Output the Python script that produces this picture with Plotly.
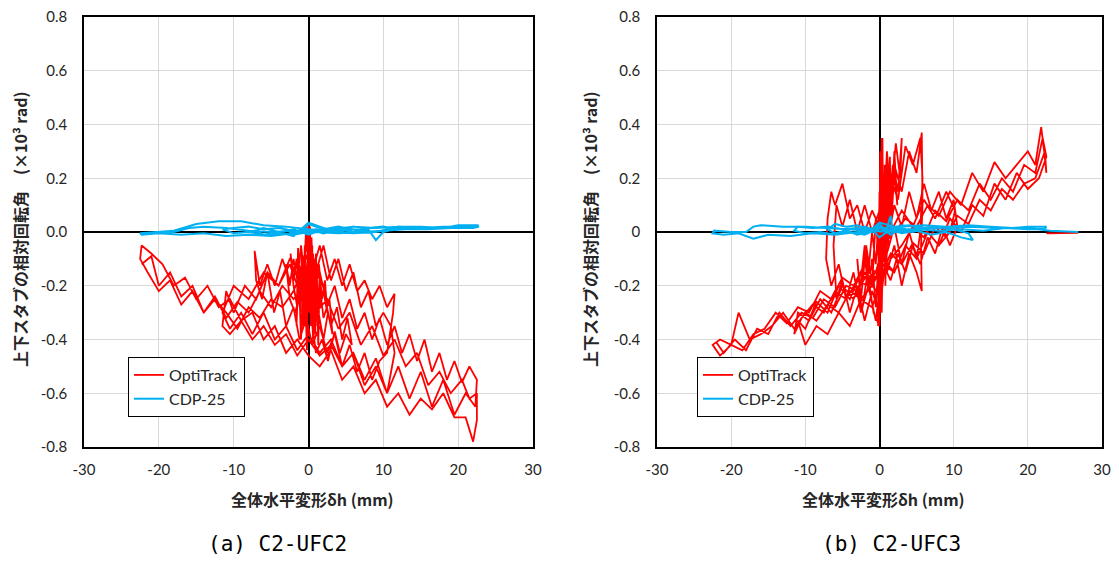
import plotly.graph_objects as go

# ---------------- data ----------------
# (a) C2-UFC2 : OptiTrack (x = 全体水平変形 mm, y = 相対回転角 x10^-3 rad)
a_optitrack = [
    (0.0, -0.05), (0.1, -0.3), (0.2, 0.02), (0.35, -0.35), (0.5, -0.05), (0.6, -0.4), (0.8, -0.1), (0.9, -0.38),
    (1.1, -0.12), (1.3, -0.42), (1.5, -0.15), (1.2, -0.35), (1.0, -0.08), (0.7, -0.3), (0.4, -0.02), (0.2, -0.28),
    (-0.1, -0.03), (-0.3, -0.3), (-0.5, -0.05), (-0.7, -0.35), (-0.9, -0.08), (-1.1, -0.3), (-1.3, -0.1), (-1.6, -0.35),
    (-1.4, -0.06), (-1.0, -0.4), (-0.6, -0.12), (-0.2, -0.44), (0.0, 0.03),
    (0.3, -0.15), (0.6, -0.08), (1.0, -0.2), (1.4, -0.12), (1.8, -0.25), (2.2, -0.18), (2.5, -0.3), (2.0, -0.22),
    (1.5, -0.28), (1.0, -0.18), (0.5, -0.25), (0.0, -0.1), (-0.4, -0.2), (-0.8, -0.12), (-1.2, -0.22), (-1.6, -0.1),
    (-2.0, -0.18), (-2.4, -0.08), (-2.0, -0.2), (-1.5, -0.28), (-1.0, -0.2), (-0.5, -0.3), (0.0, -0.02), (0.3, -0.35),
    (0.6, -0.1), (1.0, -0.3), (1.5, -0.2), (2.0, -0.32), (2.8, -0.25), (3.2, -0.38), (2.6, -0.3), (2.0, -0.4),
    (1.2, -0.28), (0.6, -0.38), (0.1, -0.2), (-0.3, 0.02), (-0.6, -0.15), (-1.0, -0.05), (-1.5, -0.18), (-2.0, -0.1),
    (-2.5, -0.2), (-3.0, -0.12), (-2.5, -0.25), (-1.8, -0.3), (-1.0, -0.22), (-0.4, -0.35), (0.2, -0.15),
    (1.0, -0.3), (2.0, -0.22), (3.0, -0.35), (3.8, -0.28), (4.5, -0.4), (5.2, -0.32), (5.8, -0.42), (5.0, -0.38),
    (4.2, -0.45), (3.5, -0.37), (2.6, -0.48), (1.8, -0.4), (1.0, -0.45), (0.3, -0.3), (-0.5, -0.2), (-1.5, -0.1),
    (-2.5, -0.18), (-3.5, -0.1), (-4.5, -0.2), (-5.5, -0.12), (-6.5, -0.2), (-7.2, -0.07), (-7.0, -0.18), (-6.2, -0.25),
    (-5.5, -0.15), (-4.6, -0.3), (-3.8, -0.22), (-3.0, -0.35), (-2.0, -0.28), (-1.2, -0.4), (-0.3, -0.32), (0.5, -0.42),
    (1.5, -0.35), (2.5, -0.45), (3.5, -0.38), (4.5, -0.5), (5.5, -0.42), (6.5, -0.52), (7.5, -0.45), (8.5, -0.55),
    (9.5, -0.48), (10.5, -0.45), (11.3, -0.3), (11.5, -0.23), (10.5, -0.28), (9.5, -0.2), (8.5, -0.25), (7.5, -0.18),
    (6.5, -0.22), (5.5, -0.12), (4.5, -0.2), (3.5, -0.1), (2.5, -0.18), (1.5, -0.05), (0.5, -0.15), (-0.5, -0.08),
    (-1.5, -0.2), (-2.5, -0.12), (-4.0, -0.2), (-5.5, -0.15), (-7.0, -0.25), (-8.5, -0.2), (-10.0, -0.3), (-11.0, -0.22),
    (-11.5, -0.35), (-10.5, -0.38), (-9.0, -0.33), (-7.5, -0.4), (-6.0, -0.35), (-4.5, -0.42), (-3.0, -0.38), (-1.5, -0.46),
    (0.0, -0.4), (1.5, -0.46), (3.0, -0.42), (4.5, -0.5), (6.0, -0.45), (7.5, -0.57), (9.0, -0.5), (10.5, -0.6),
    (11.5, -0.45), (11.0, -0.35), (10.0, -0.3), (9.0, -0.35), (8.0, -0.22), (7.0, -0.28), (6.0, -0.15), (5.0, -0.22),
    (4.0, -0.1), (3.0, -0.18), (2.0, -0.05), (1.0, -0.15), (0.0, -0.02), (-1.0, -0.15), (-2.5, -0.1), (-4.0, -0.2),
    (-6.0, -0.15), (-8.0, -0.25), (-10.0, -0.2), (-11.5, -0.3), (-10.5, -0.36), (-9.0, -0.3), (-7.5, -0.38), (-6.0, -0.3),
    (-4.5, -0.4), (-3.0, -0.35), (-1.5, -0.44), (0.0, -0.38),
    (1.5, -0.45), (3.0, -0.4), (4.5, -0.5), (6.0, -0.45), (7.5, -0.55), (9.0, -0.47), (10.5, -0.6), (12.0, -0.5),
    (13.5, -0.62), (15.0, -0.52), (16.5, -0.65), (18.0, -0.55), (19.5, -0.68), (21.0, -0.6), (22.3, -0.65), (22.5, -0.55),
    (21.5, -0.5), (20.5, -0.56), (19.5, -0.48), (18.5, -0.55), (17.5, -0.45), (16.5, -0.52), (15.5, -0.4), (14.5, -0.48),
    (13.5, -0.38), (12.5, -0.45), (11.5, -0.35), (10.5, -0.42), (9.5, -0.32), (8.5, -0.4), (7.5, -0.3), (6.5, -0.36),
    (5.5, -0.25), (4.5, -0.32), (3.5, -0.2), (2.5, -0.27), (1.5, -0.15), (0.5, -0.22), (-0.5, -0.12), (-2.0, -0.22),
    (-3.5, -0.28), (-5.0, -0.25), (-6.5, -0.32), (-8.0, -0.28), (-9.5, -0.36), (-11.0, -0.3), (-12.5, -0.25), (-14.0, -0.3),
    (-15.5, -0.22), (-17.0, -0.27), (-18.5, -0.18), (-20.0, -0.22), (-21.5, -0.15), (-22.5, -0.1), (-22.3, -0.05),
    (-21.0, -0.08), (-19.5, -0.12), (-18.0, -0.2), (-16.5, -0.17), (-15.0, -0.25), (-13.5, -0.2), (-12.0, -0.28),
    (-10.5, -0.25), (-9.0, -0.33), (-7.5, -0.3), (-6.0, -0.4), (-4.5, -0.35), (-3.0, -0.45), (-1.5, -0.4), (0.0, -0.46),
    (1.5, -0.5), (3.0, -0.44), (4.5, -0.55), (6.0, -0.5), (7.5, -0.6), (9.0, -0.55), (10.5, -0.65), (12.0, -0.6),
    (13.5, -0.68), (15.0, -0.62), (16.5, -0.66), (18.0, -0.6), (19.5, -0.69), (21.0, -0.69), (22.0, -0.78), (22.5, -0.7),
    (22.5, -0.6), (21.5, -0.62), (20.5, -0.55), (19.0, -0.6), (17.5, -0.52), (16.0, -0.57), (14.5, -0.45), (13.0, -0.5),
    (11.5, -0.4), (10.0, -0.46), (8.5, -0.35), (7.0, -0.42), (5.5, -0.3), (4.0, -0.36), (2.5, -0.25), (1.0, -0.3),
    (-0.5, -0.2), (-2.0, -0.25), (-3.5, -0.2), (-5.0, -0.28), (-6.5, -0.22), (-8.0, -0.3), (-9.5, -0.26), (-11.0, -0.32),
    (-12.5, -0.24), (-14.0, -0.3), (-15.5, -0.2), (-17.0, -0.24), (-18.5, -0.15), (-20.0, -0.2), (-21.0, -0.09), (-22.3, -0.12),
]

# (a) C2-UFC2 : CDP-25
a_cdp25 = [
    (0, 0.0), (1, 0.01), (2, 0.005), (3, 0.015), (2, 0.0), (1, 0.01), (0, -0.005), (-1, 0.01), (-2, 0.0), (-3, 0.01),
    (-2, -0.01), (-1, 0.0), (0, 0.03), (2, 0.01), (4, 0.02), (5.5, 0.01), (4, 0.0), (2, 0.01), (0, -0.01), (-2, 0.01),
    (-4, 0.0), (-6, 0.015), (-7.2, 0.005), (-6, -0.01), (-4, 0.0), (-2, -0.015), (0, 0.035), (2, 0.015), (4, 0.0),
    (6, 0.02), (8, 0.01), (9, -0.03), (10, 0.0), (11.5, 0.01), (10, 0.02), (8, 0.015), (6, 0.0), (4, 0.01), (2, -0.005),
    (0, 0.01), (-2, 0.005), (-4, 0.015), (-6, 0.01), (-8, 0.02), (-10, 0.015), (-11.5, 0.01), (-10, -0.005), (-8, 0.0),
    (-6, -0.01), (-4, -0.005), (-2, -0.01), (0, 0.0), (3, 0.01), (6, 0.02), (9, 0.015), (12, 0.02), (15, 0.02),
    (18, 0.015), (20, 0.025), (22.7, 0.025), (22.5, 0.02), (20, 0.02), (17, 0.015), (14, 0.02), (11, 0.01), (9, 0.0),
    (6, 0.01), (3, 0.005), (0, 0.01), (-3, 0.02), (-6, 0.025), (-9, 0.04), (-12, 0.04), (-15, 0.03), (-18, 0.005),
    (-20, 0.0), (-22.5, -0.005), (-22.3, -0.01), (-20, -0.005), (-17, -0.01), (-14, -0.005), (-11, -0.015), (-8, -0.01),
    (-5, -0.015), (-2, -0.005), (0, 0.005), (3, 0.0), (6, -0.005), (9, 0.0), (12, 0.02), (15, 0.015), (18, 0.02),
    (21, 0.02), (22.8, 0.02), (22, 0.015), (19, 0.015), (16, 0.01), (13, 0.01), (10, 0.005), (7, 0.0), (4, -0.005),
    (1, 0.0), (-2, 0.005), (-5, 0.0), (-8, 0.005), (-11, 0.015), (-14, 0.02), (-16, 0.015), (-18, 0.0), (-20, -0.005),
    (-22.5, -0.005),
]

# (b) C2-UFC3 : OptiTrack
b_optitrack = [
    (0.0, 0.0), (0.1, 0.3), (0.2, -0.25), (0.4, 0.35), (0.5, -0.1), (0.7, 0.25), (0.8, -0.2), (1.0, 0.3), (1.2, -0.05),
    (1.4, 0.28), (1.6, 0.0), (1.3, 0.22), (0.9, -0.15), (0.6, 0.2), (0.3, -0.3), (0.0, 0.15), (-0.2, -0.35), (0.1, 0.05),
    (0.4, 0.15), (0.8, -0.05), (1.2, 0.2), (1.6, 0.05), (2.0, 0.3), (2.4, 0.1), (2.0, 0.22), (1.5, 0.0), (1.0, 0.15),
    (0.5, -0.1), (0.0, 0.1), (-0.5, -0.12), (-1.0, 0.0), (-1.5, -0.15), (-2.0, -0.05), (-2.5, -0.18), (-2.0, -0.08),
    (-1.5, -0.22), (-1.0, -0.1), (-0.5, -0.28), (0.0, -0.05), (0.3, 0.35), (0.6, 0.05), (1.0, 0.3), (1.5, 0.12),
    (2.2, 0.33), (2.8, 0.2), (3.0, 0.35), (2.5, 0.15), (1.8, 0.25), (1.2, 0.05), (0.6, 0.18), (0.0, -0.15), (-0.5, 0.05),
    (-1.0, -0.2), (-1.8, -0.05), (-2.5, -0.25), (-3.0, -0.1), (-2.4, -0.3), (-1.6, -0.15), (-0.8, -0.3), (0.0, -0.35),
    (0.2, -0.1),
    (1.0, 0.1), (2.0, 0.25), (3.0, 0.15), (4.0, 0.3), (5.0, 0.22), (5.7, 0.37), (5.8, 0.1), (5.6, -0.05), (5.7, -0.22),
    (5.0, -0.15), (4.0, -0.08), (3.0, -0.2), (2.0, -0.05), (1.0, -0.15), (0.0, 0.02), (-1.0, 0.08), (-2.0, 0.0),
    (-3.0, 0.1), (-4.0, 0.05), (-5.0, 0.18), (-6.0, 0.1), (-6.5, 0.15), (-7.0, 0.05), (-7.2, -0.1), (-6.5, -0.2),
    (-5.5, -0.12), (-4.5, -0.25), (-3.5, -0.15), (-2.5, -0.3), (-1.5, -0.2), (-0.5, -0.33), (0.5, -0.1),
    (1.5, 0.2), (2.5, 0.12), (3.5, 0.32), (4.5, 0.25), (5.5, 0.35), (5.8, 0.2), (5.5, 0.0), (5.0, -0.1), (4.0, 0.0),
    (3.0, -0.12), (2.0, 0.02), (1.0, -0.08), (0.0, 0.08), (-1.0, 0.0), (-2.0, 0.1), (-3.0, 0.0), (-4.0, 0.12),
    (-5.0, 0.02), (-5.8, 0.1), (-6.2, -0.05), (-5.8, -0.25), (-5.0, -0.18), (-4.0, -0.3), (-3.0, -0.2), (-2.0, -0.33),
    (-1.0, -0.22), (0.0, -0.3),
    (1.0, -0.05), (2.0, 0.1), (3.0, 0.02), (4.0, 0.15), (5.0, 0.05), (6.0, 0.18), (7.0, 0.08), (8.0, 0.15), (9.0, 0.05),
    (10.0, 0.12), (10.5, 0.02), (9.5, -0.05), (8.5, 0.02), (7.5, -0.08), (6.5, -0.02), (5.5, -0.12), (4.5, -0.05),
    (3.5, -0.15), (2.5, -0.08), (1.5, -0.18), (0.5, -0.12), (-0.5, -0.22), (-2.0, -0.15), (-3.5, -0.25), (-5.0, -0.2),
    (-6.5, -0.3), (-8.0, -0.25), (-9.5, -0.33), (-11.0, -0.3), (-11.5, -0.38), (-10.5, -0.32), (-9.0, -0.27),
    (-7.5, -0.3), (-6.0, -0.22), (-4.5, -0.25), (-3.0, -0.18), (-1.5, -0.2), (0.0, -0.12),
    (1.5, 0.0), (3.0, 0.08), (4.5, 0.02), (6.0, 0.12), (7.5, 0.05), (9.0, 0.15), (10.2, 0.08), (9.5, 0.0), (8.0, -0.05),
    (6.5, 0.0), (5.0, -0.1), (3.5, -0.05), (2.0, -0.15), (0.5, -0.1), (-1.0, -0.2), (-2.5, -0.15), (-4.0, -0.25),
    (-5.5, -0.2), (-7.0, -0.3), (-8.5, -0.26), (-10.0, -0.36), (-11.0, -0.33), (-10.0, -0.42), (-8.5, -0.35),
    (-7.0, -0.38), (-5.5, -0.3), (-4.0, -0.35), (-2.5, -0.25), (-1.0, -0.28), (0.0, -0.2),
    (1.5, -0.1), (3.0, -0.05), (4.5, 0.02), (6.0, -0.02), (7.5, 0.08), (9.0, 0.04), (10.5, 0.12), (12.0, 0.08),
    (13.5, 0.18), (15.0, 0.12), (16.5, 0.2), (18.0, 0.15), (19.5, 0.25), (21.0, 0.22), (22.0, 0.35), (22.5, 0.28),
    (21.5, 0.2), (20.0, 0.16), (18.5, 0.22), (17.0, 0.12), (15.5, 0.18), (14.0, 0.06), (12.5, 0.1), (11.0, 0.0),
    (9.5, 0.05), (8.0, -0.05), (6.5, 0.0), (5.0, -0.1), (3.5, -0.05), (2.0, -0.15), (0.5, -0.12), (-1.0, -0.2),
    (-2.5, -0.25), (-4.0, -0.22), (-5.5, -0.3), (-7.0, -0.27), (-8.5, -0.33), (-10.0, -0.3), (-11.5, -0.36),
    (-13.0, -0.3), (-14.5, -0.35), (-16.0, -0.38), (-17.5, -0.4), (-19.0, -0.3), (-20.0, -0.42), (-21.5, -0.4),
    (-22.5, -0.42), (-21.5, -0.46), (-20.0, -0.42), (-18.5, -0.44), (-17.0, -0.38), (-15.5, -0.36), (-14.0, -0.3),
    (-12.5, -0.34), (-11.0, -0.28), (-9.5, -0.3), (-8.0, -0.22), (-6.5, -0.25), (-5.0, -0.17), (-3.5, -0.2),
    (-2.0, -0.12), (-0.5, -0.15), (0.5, -0.05),
    (2.0, 0.0), (3.5, 0.05), (5.0, 0.02), (6.5, 0.1), (8.0, 0.06), (9.5, 0.15), (11.0, 0.1), (12.5, 0.22), (14.0, 0.15),
    (15.5, 0.26), (17.0, 0.2), (18.5, 0.25), (20.0, 0.3), (21.0, 0.25), (21.8, 0.39), (22.2, 0.3), (22.5, 0.22),
    (22.3, 0.3), (21.0, 0.2), (19.5, 0.18), (18.0, 0.12), (16.5, 0.16), (15.0, 0.08), (13.5, 0.12), (12.0, 0.03),
    (10.5, 0.06), (9.0, -0.02), (7.5, 0.02), (6.0, -0.08), (4.5, -0.04), (3.0, -0.12), (1.5, -0.08), (0.0, -0.18),
    (-1.5, -0.15), (-3.0, -0.22), (-4.5, -0.2), (-6.0, -0.28), (-7.5, -0.25), (-9.0, -0.32), (-10.5, -0.3),
    (-12.0, -0.35), (-13.5, -0.3), (-15.0, -0.38), (-16.5, -0.36), (-18.0, -0.44), (-19.5, -0.4), (-21.0, -0.45),
    (-22.0, -0.41),
    (None, None), (22.5, -0.005), (26.8, -0.003),
]

# (b) C2-UFC3 : CDP-25
b_cdp25 = [
    (0, 0.0), (1, 0.015), (1.5, 0.06), (1.8, 0.0), (2.5, 0.02), (3, 0.005), (2, 0.02), (1, 0.0), (0, 0.03), (-1, 0.01),
    (-2, 0.02), (-3, 0.005), (-2, -0.01), (-1, 0.01), (0, -0.02), (1.5, 0.01), (3, 0.025), (4.5, 0.02), (5.8, 0.01),
    (4.5, 0.0), (3, 0.015), (1.5, -0.01), (0, 0.02), (-1.5, 0.01), (-3, 0.025), (-4.5, 0.02), (-6, 0.03), (-7, 0.01),
    (-6, -0.005), (-4.5, 0.005), (-3, -0.01), (-1.5, 0.0), (0, 0.035), (2, 0.02), (4, 0.025), (6, 0.015), (8, 0.02),
    (10, 0.01), (12, -0.005), (12.6, -0.03), (11, -0.02), (9, 0.0), (7, -0.01), (5, 0.005), (3, -0.005), (1, 0.01),
    (-1, 0.0), (-3, 0.015), (-5, 0.01), (-7, 0.02), (-9, 0.015), (-11, 0.02), (-11.5, 0.005), (-10, -0.005), (-8, 0.0),
    (-6, -0.01), (-4, 0.0), (-2, -0.01), (0, 0.015), (3, 0.02), (6, 0.025), (9, 0.02), (12, 0.025), (15, 0.02),
    (18, 0.015), (20, 0.02), (22.5, 0.02), (22.3, 0.012), (20, 0.01), (17, 0.015), (14, 0.005), (11, 0.01), (8, 0.005),
    (5, 0.01), (2, 0.0), (-1, 0.005), (-4, 0.01), (-7, 0.015), (-10, 0.02), (-13, 0.02), (-16, 0.025), (-17, 0.02),
    (-18, 0.0), (-20, 0.0), (-22.3, 0.005), (-22.5, -0.005), (-21, -0.01), (-19, -0.005), (-17, -0.025), (-15, -0.01),
    (-12, -0.015), (-9, -0.005), (-6, -0.01), (-3, 0.0), (0, 0.005), (4, 0.01), (8, 0.015), (12, 0.02), (16, 0.015),
    (20, 0.015), (23, 0.005), (26.8, 0.0),
]

x_ticks = [-30, -20, -10, 0, 10, 20, 30]
x_labels = ["-30", "-20", "-10", "0", "10", "20", "30"]
y_ticks = [-0.8, -0.6, -0.4, -0.2, 0.0, 0.2, 0.4, 0.6, 0.8]
y_labels_a = ["-0.8", "-0.6", "-0.4", "-0.2", "0.0", "0.2", "0.4", "0.6", "0.8"]
y_labels_b = ["-0.8", "-0.6", "-0.4", "-0.2", "0", "0.2", "0.4", "0.6", "0.8"]

series_names = ["OptiTrack", "CDP-25"]
captions = ["(a) C2-UFC2", "(b) C2-UFC3"]
x_title = "全体水平変形δh (mm)"
y_title = "上下スタブの相対回転角　(×10³ rad)"

RED = "#FF0000"
BLUE = "#00B0F0"
PAGE_W, PAGE_H = 1119, 566
OFF = 8  # default body margin of the html page
W, H = PAGE_W - 2 * OFF, PAGE_H - 2 * OFF


def px_x(p):
    return (p - OFF) / W


def px_y(p):
    return 1 - (p - OFF) / H


def xs(p):
    return [q[0] for q in p]


def ys(p):
    return [q[1] for q in p]


fig = go.Figure()
fig.add_trace(go.Scatter(x=xs(a_optitrack), y=ys(a_optitrack), mode="lines", name=series_names[0],
                         line=dict(color=RED, width=1.8), xaxis="x", yaxis="y", legend="legend"))
fig.add_trace(go.Scatter(x=xs(a_cdp25), y=ys(a_cdp25), mode="lines", name=series_names[1],
                         line=dict(color=BLUE, width=2), xaxis="x", yaxis="y", legend="legend"))
fig.add_trace(go.Scatter(x=xs(b_optitrack), y=ys(b_optitrack), mode="lines", name=series_names[0],
                         line=dict(color=RED, width=1.8), xaxis="x2", yaxis="y2", legend="legend2"))
fig.add_trace(go.Scatter(x=xs(b_cdp25), y=ys(b_cdp25), mode="lines", name=series_names[1],
                         line=dict(color=BLUE, width=2), xaxis="x2", yaxis="y2", legend="legend2"))

# pixel geometry of the plot areas (page pixels)
ax_a = (84, 533)
ax_b = (657, 1102)
top, bot = 17, 447
ydom = [px_y(bot), px_y(top)]

tickfont = dict(family="Lato, Carlito, sans-serif", size=15, color="#262626")
common_x = dict(range=[-30, 30], tickvals=x_ticks, ticktext=x_labels, showgrid=True, gridcolor="#D9D9D9",
                gridwidth=1, zeroline=True, zerolinecolor="black", zerolinewidth=1.5, showline=True, mirror=True,
                linecolor="black", linewidth=1.5, ticks="", tickfont=tickfont, ticklabelstandoff=8,
                automargin=False, ticklabeloverflow="allow")
common_y = dict(range=[-0.8, 0.8], tickvals=y_ticks, showgrid=True, gridcolor="#D9D9D9", gridwidth=1,
                zeroline=True, zerolinecolor="black", zerolinewidth=1.5, showline=True, mirror=True,
                linecolor="black", linewidth=1.5, ticks="", tickfont=tickfont, ticklabelstandoff=12,
                domain=ydom, automargin=False, ticklabeloverflow="allow")

legend_common = dict(bordercolor="black", borderwidth=1, bgcolor="white",
                     font=dict(family="Lato, Carlito, sans-serif", size=16, color="#262626"),
                     xanchor="left", yanchor="top", itemwidth=30, tracegroupgap=0)

fig.update_layout(
    template="none",
    width=W, height=H,
    margin=dict(l=0, r=0, t=0, b=0, autoexpand=False),
    paper_bgcolor="white", plot_bgcolor="white",
    xaxis=dict(domain=[px_x(ax_a[0]), px_x(ax_a[1])], anchor="y", **common_x),
    yaxis=dict(anchor="x", ticktext=y_labels_a, **common_y),
    xaxis2=dict(domain=[px_x(ax_b[0]), px_x(ax_b[1])], anchor="y2", **common_x),
    yaxis2=dict(anchor="x2", ticktext=y_labels_b, **common_y),
    legend=dict(x=px_x(128), y=px_y(357), **legend_common),
    legend2=dict(x=px_x(697), y=px_y(357), **legend_common),
    showlegend=True,
)

title_font = dict(family="Noto Sans CJK JP, sans-serif", size=16, color="#262626")
ann = []
for (x0, x1), ytx, capx, cap in [(ax_a, 20, 277, captions[0]), (ax_b, 590, 891, captions[1])]:
    cx = (x0 + x1) / 2
    ann.append(dict(text="<b>" + x_title + "</b>", x=px_x(cx + 4), y=px_y(499), xref="paper", yref="paper",
                    showarrow=False, font=dict(family="Noto Sans CJK JP, sans-serif", size=16, color="#262626"),
                    xanchor="center", yanchor="middle"))
    ann.append(dict(text="<b>" + y_title + "</b>", x=px_x(ytx), y=px_y(229), xref="paper", yref="paper",
                    showarrow=False, textangle=-90, font=title_font, xanchor="center", yanchor="middle"))
    ann.append(dict(text=cap, x=px_x(capx), y=px_y(544), xref="paper", yref="paper", showarrow=False,
                    font=dict(family="DejaVu Sans Mono, monospace", size=21, color="black"),
                    xanchor="center", yanchor="middle", borderpad=0))
fig.update_layout(annotations=ann)

fig.write_html("out.html")
